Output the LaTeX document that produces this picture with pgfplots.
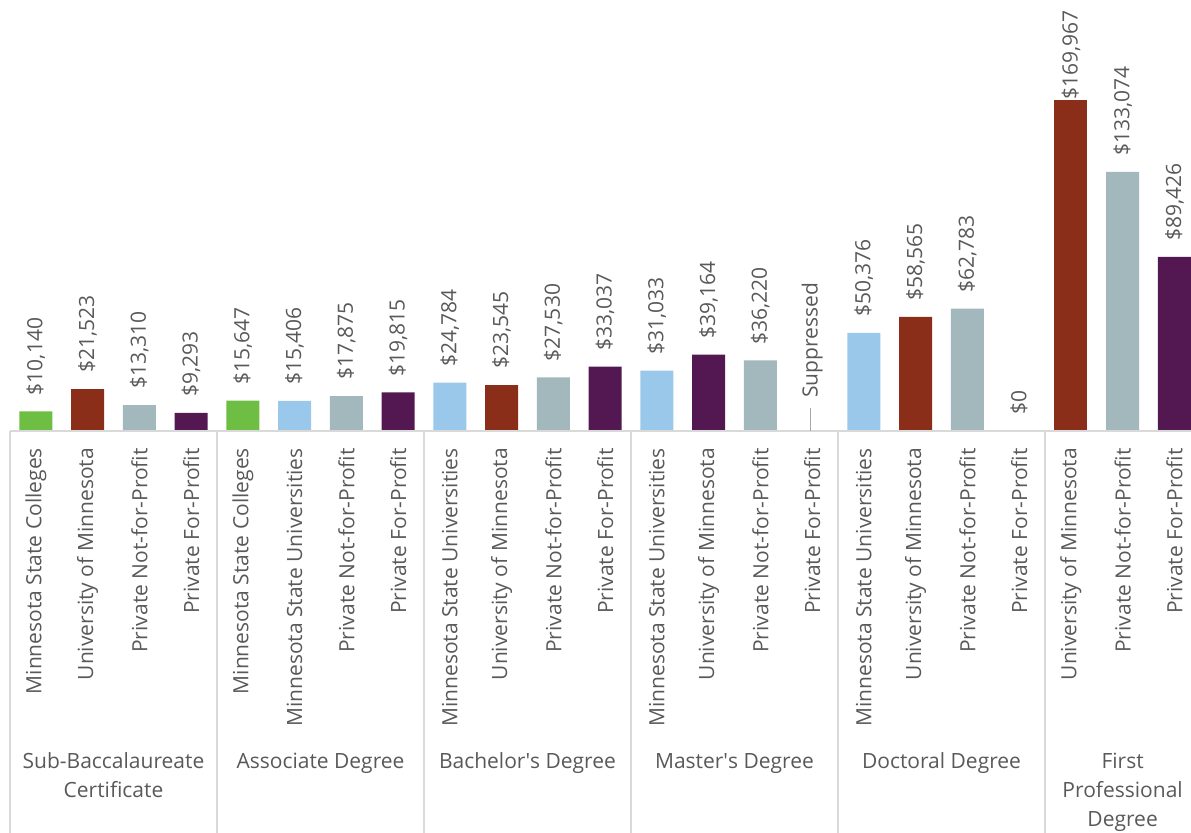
\documentclass[border=0pt]{standalone}
\usepackage{pgfplots}
\pgfplotsset{compat=1.18}
\usepackage{fontspec}
\setmainfont{Open Sans}
\definecolor{cgreen}{HTML}{6FBE44}
\definecolor{cblue}{HTML}{9AC8EA}
\definecolor{cbrown}{HTML}{8A2E1A}
\definecolor{cgrey}{HTML}{A2B8BD}
\definecolor{cpurple}{HTML}{531852}
\definecolor{ctext}{HTML}{595959}
\definecolor{cline}{HTML}{D9D9D9}
\newcommand{\lbl}{\fontsize{21bp}{29bp}\selectfont}
\begin{document}
\begin{tikzpicture}
\begin{axis}[
    at={(10bp,402bp)}, anchor=south west,
    scale only axis,
    width=1181bp, height=431bp,
    xmin=-0.5, xmax=22.321,
    ymin=0, ymax=221300,
    axis x line*=bottom, axis y line=none,
    x axis line style={draw=none},
    ytick=\empty,
    clip=false,
    ybar, bar shift=0pt, bar width=33bp,
    xtick={0,...,22},
    xticklabels={Minnesota State Colleges,University of Minnesota,Private Not-for-Profit,Private For-Profit,
        Minnesota State Colleges,Minnesota State Universities,Private Not-for-Profit,Private For-Profit,
        Minnesota State Universities,University of Minnesota,Private Not-for-Profit,Private For-Profit,
        Minnesota State Universities,University of Minnesota,Private Not-for-Profit,Private For-Profit,
        Minnesota State Universities,University of Minnesota,Private Not-for-Profit,Private For-Profit,
        University of Minnesota,Private Not-for-Profit,Private For-Profit},
    xticklabel style={rotate=90, anchor=east, inner sep=0pt, font=\lbl, text=ctext},
    xticklabel shift=17bp,
    major tick length=0pt,
    point meta=explicit symbolic,
    nodes near coords={\pgfplotspointmeta},
    every node near coord/.append style={rotate=90, anchor=west, inner xsep=16bp, inner ysep=0pt, font=\lbl, text=ctext},
]
% Minnesota State Colleges
\addplot[fill=cgreen, draw=none, bar shift=0pt] coordinates {
    (0,10140) [\$10,140] (4,15647) [\$15,647]};
% Minnesota State Universities
\addplot[fill=cblue, draw=none, bar shift=0pt] coordinates {
    (5,15406) [\$15,406] (8,24784) [\$24,784] (12,31033) [\$31,033] (16,50376) [\$50,376]};
% University of Minnesota
\addplot[fill=cbrown, draw=none, bar shift=0pt] coordinates {
    (1,21523) [\$21,523] (9,23545) [\$23,545] (17,58565) [\$58,565]};
\addplot[fill=cbrown, draw=none, bar shift=0pt,
    every node near coord/.append style={inner xsep=0.5bp}] coordinates {
    (20,169967) [\$169,967]};
% Private Not-for-Profit
\addplot[fill=cgrey, draw=none, bar shift=0pt] coordinates {
    (2,13310) [\$13,310] (6,17875) [\$17,875] (10,27530) [\$27,530]
    (14,36220) [\$36,220] (18,62783) [\$62,783] (21,133074) [\$133,074]};
% Private For-Profit
\addplot[fill=cpurple, draw=none, bar shift=0pt] coordinates {
    (3,9293) [\$9,293] (7,19815) [\$19,815] (11,33037) [\$33,037]
    (13,39164) [\$39,164] (19,0) [\$0] (22,89426) [\$89,426]};
% suppressed value
\addplot[fill=cpurple, draw=none, bar shift=0pt,
    every node near coord/.append style={inner xsep=0pt}] coordinates {
    (15,0) [\textcolor{black!35}{\raisebox{0.3em}{\rule{23bp}{1.3bp}}}\hspace{10bp}Suppressed]};

% baseline and group separators
\draw[cline, line width=1.5bp] (axis cs:-0.5,0) -- (axis cs:22.321,0);
\pgfplotsinvokeforeach{-0.5,3.5,7.5,11.5,15.5,19.5}{
    \draw[cline, line width=1.5bp] (axis cs:#1,0) -- ([yshift=-402bp]axis cs:#1,0);
}
% group labels
\begin{scope}[every node/.style={anchor=base, font=\lbl, text=ctext, inner sep=0pt}]
\node at ([yshift=-337bp]axis cs:1.5,0) {Sub-Baccalaureate};
\node at ([yshift=-366bp]axis cs:1.5,0) {Certificate};
\node at ([yshift=-337bp]axis cs:5.5,0) {Associate Degree};
\node at ([yshift=-337bp]axis cs:9.5,0) {Bachelor\textquotesingle s Degree};
\node at ([yshift=-337bp]axis cs:13.5,0) {Master\textquotesingle s Degree};
\node at ([yshift=-337bp]axis cs:17.5,0) {Doctoral Degree};
\node at ([yshift=-337bp]axis cs:21,0) {First};
\node at ([yshift=-366bp]axis cs:21,0) {Professional};
\node at ([yshift=-395bp]axis cs:21,0) {Degree};
\end{scope}
\end{axis}
\pgfresetboundingbox
\useasboundingbox (0,0) rectangle (1191bp,833bp);
\end{tikzpicture}
\end{document}
